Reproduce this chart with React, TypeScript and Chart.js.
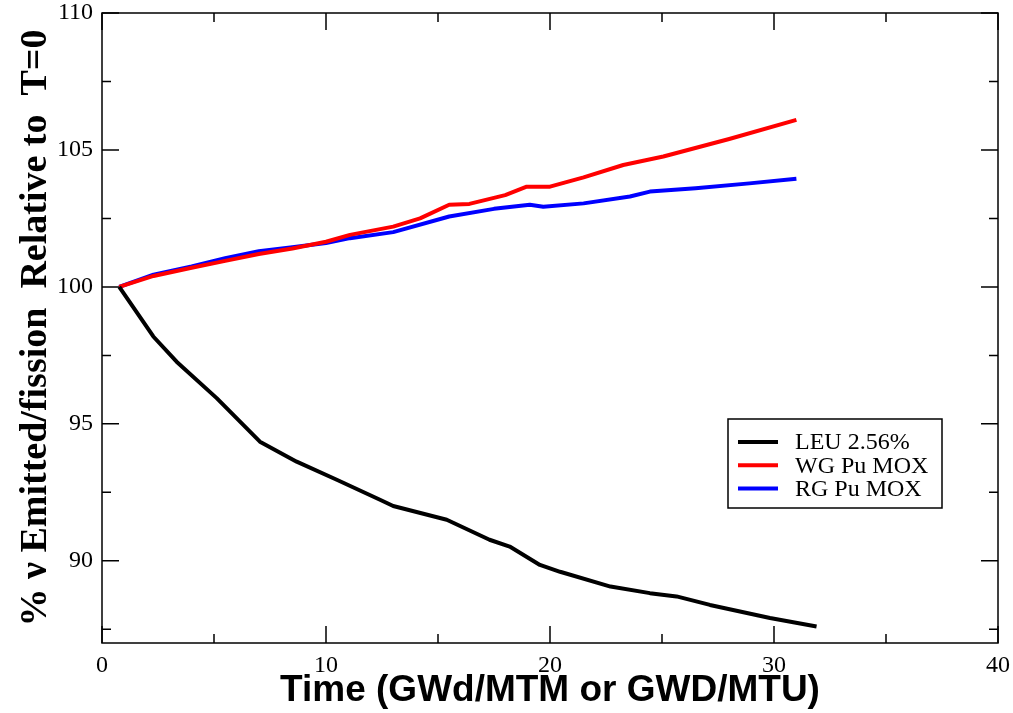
import React, { useEffect, useRef } from "react";
import { Chart, registerables } from "chart.js";

Chart.register(...registerables);

// ---- data ----
const leuX = [0.77, 2.29, 3.33, 5.12, 7.05, 8.69, 10.48, 12.41, 13.0, 15.39, 17.3, 18.2, 19.55, 20.45, 22.7, 24.46, 25.65, 27.14, 29.82, 31.9];
const leuY = [100, 98.19, 97.27, 95.94, 94.35, 93.62, 92.96, 92.23, 92.0, 91.5, 90.77, 90.52, 89.85, 89.6, 89.06, 88.82, 88.7, 88.39, 87.91, 87.6];

const wgX = [0.77, 2.3, 4, 5.5, 7, 8.5, 10, 11.07, 13.0, 14.2, 15.5, 16.4, 18.0, 18.96, 20.0, 21.5, 23.27, 25.06, 28, 31.0];
const wgY = [100, 100.4, 100.7, 100.95, 101.2, 101.4, 101.65, 101.9, 102.2, 102.5, 103.0, 103.03, 103.35, 103.66, 103.66, 104.0, 104.45, 104.76, 105.4, 106.1];

const rgX = [0.77, 2.3, 4, 5.5, 7, 8.5, 10, 11.07, 13.0, 15.5, 17.5, 19.1, 19.7, 21.5, 23.57, 24.46, 26.5, 28.9, 31.0];
const rgY = [100, 100.45, 100.75, 101.05, 101.3, 101.45, 101.6, 101.78, 102.0, 102.57, 102.85, 103.0, 102.93, 103.05, 103.3, 103.48, 103.6, 103.78, 103.95];

const seriesLabels = ["LEU 2.56%", "WG Pu MOX", "RG Pu MOX"];
const seriesColors = ["#000000", "#ff0000", "#0000ff"];

const xTicks = [0, 5, 10, 15, 20, 25, 30, 35, 40];
const xLabeled = [0, 10, 20, 30, 40];
const yTicks = [87.5, 90, 92.5, 95, 97.5, 100, 102.5, 105, 107.5, 110];
const yLabeled = [90, 95, 100, 105, 110];

const xTitle = "Time (GWd/MTM or GWD/MTU)";
const yTitle = "% ν Emitted/fission  Relative to  T=0";

const toPoints = (xs: number[], ys: number[]) => xs.map((x, i) => ({ x, y: ys[i] }));

const framePlugin = {
  id: "frameTicks",
  afterDatasetsDraw(chart: any) {
    const { ctx, chartArea, scales } = chart;
    const { left, right, top, bottom } = chartArea;
    ctx.save();
    ctx.strokeStyle = "#000";
    ctx.lineWidth = 1.5;
    ctx.strokeRect(left, top, right - left, bottom - top);
    const major = 17;
    const minor = 9;
    xTicks.forEach((v) => {
      const px = scales.x.getPixelForValue(v);
      const len = xLabeled.includes(v) ? major : minor;
      ctx.beginPath();
      ctx.moveTo(px, bottom);
      ctx.lineTo(px, bottom - len);
      ctx.moveTo(px, top);
      ctx.lineTo(px, top + len);
      ctx.stroke();
    });
    yTicks.forEach((v) => {
      const py = scales.y.getPixelForValue(v);
      const len = yLabeled.includes(v) ? major : minor;
      ctx.beginPath();
      ctx.moveTo(left, py);
      ctx.lineTo(left + len, py);
      ctx.moveTo(right, py);
      ctx.lineTo(right - len, py);
      ctx.stroke();
    });
    ctx.restore();
  },
};

const legendPlugin = {
  id: "boxLegend",
  afterDraw(chart: any) {
    const { ctx } = chart;
    const bx = 728, by = 419, bw = 214, bh = 89;
    ctx.save();
    ctx.fillStyle = "#fff";
    ctx.fillRect(bx, by, bw, bh);
    ctx.strokeStyle = "#000";
    ctx.lineWidth = 1.5;
    ctx.strokeRect(bx, by, bw, bh);
    ctx.font = "24px 'Liberation Serif', serif";
    ctx.textBaseline = "middle";
    ctx.textAlign = "left";
    chart.data.datasets.forEach((ds: any, i: number) => {
      const y = by + 23 + i * 23.3;
      ctx.strokeStyle = ds.borderColor;
      ctx.lineWidth = 4;
      ctx.beginPath();
      ctx.moveTo(bx + 10, y);
      ctx.lineTo(bx + 50, y);
      ctx.stroke();
      ctx.fillStyle = "#000";
      ctx.fillText(ds.label, bx + 67, y + 1);
    });
    ctx.restore();
  },
};

export default function App() {
  const ref = useRef<HTMLCanvasElement>(null);

  useEffect(() => {
    document.body.style.margin = "0";
    const canvas = ref.current!;
    const chart = new Chart(canvas, {
      type: "line",
      data: {
        datasets: [
          { label: seriesLabels[0], data: toPoints(leuX, leuY), borderColor: seriesColors[0], backgroundColor: seriesColors[0] },
          { label: seriesLabels[1], data: toPoints(wgX, wgY), borderColor: seriesColors[1], backgroundColor: seriesColors[1] },
          { label: seriesLabels[2], data: toPoints(rgX, rgY), borderColor: seriesColors[2], backgroundColor: seriesColors[2] },
        ],
      },
      options: {
        animation: false,
        responsive: false,
        maintainAspectRatio: false,
        layout: { padding: { left: 0, right: 15, top: 13, bottom: 0 } },
        elements: {
          point: { radius: 0 },
          line: { borderWidth: 4, tension: 0, borderCapStyle: "butt", borderJoinStyle: "round" },
        },
        plugins: {
          legend: { display: false },
          tooltip: { enabled: false },
        },
        scales: {
          x: {
            type: "linear",
            min: 0,
            max: 40,
            grid: { display: false, drawTicks: false },
            border: { display: false },
            afterBuildTicks: (s: any) => {
              s.ticks = xLabeled.map((v) => ({ value: v }));
            },
            afterFit: (s: any) => {
              s.height = 70;
              s.paddingLeft = 0;
              s.paddingRight = 0;
            },
            ticks: {
              color: "#000",
              padding: 8,
              maxRotation: 0,
              autoSkip: false,
              font: { family: "'Liberation Serif', serif", size: 24 },
              callback: (v: any) => String(v),
            },
            title: {
              display: true,
              text: xTitle,
              color: "#000",
              padding: { top: 0, bottom: 0 },
              font: { family: "'Liberation Sans', Arial, sans-serif", size: 37, weight: "bold" },
            },
          },
          y: {
            type: "linear",
            min: 87,
            max: 110,
            grid: { display: false, drawTicks: false },
            border: { display: false },
            afterBuildTicks: (s: any) => {
              s.ticks = yLabeled.map((v) => ({ value: v }));
            },
            afterFit: (s: any) => {
              s.width = 102;
              s.paddingTop = 0;
              s.paddingBottom = 0;
            },
            ticks: {
              color: "#000",
              padding: 9,
              autoSkip: false,
              font: { family: "'Liberation Serif', serif", size: 24 },
              callback: (v: any) => String(v),
            },
            title: {
              display: true,
              text: yTitle,
              color: "#000",
              padding: { top: 13, bottom: 0 },
              font: { family: "'Liberation Serif', serif", size: 38, weight: "bold" },
            },
          },
        },
      },
      plugins: [framePlugin, legendPlugin],
    });
    return () => chart.destroy();
  }, []);

  return (
    <div style={{ position: "absolute", left: 0, top: 0, width: 1013, height: 713, background: "#fff" }}>
      <canvas ref={ref} width={1013} height={713} style={{ width: 1013, height: 713, display: "block" }} />
    </div>
  );
}
